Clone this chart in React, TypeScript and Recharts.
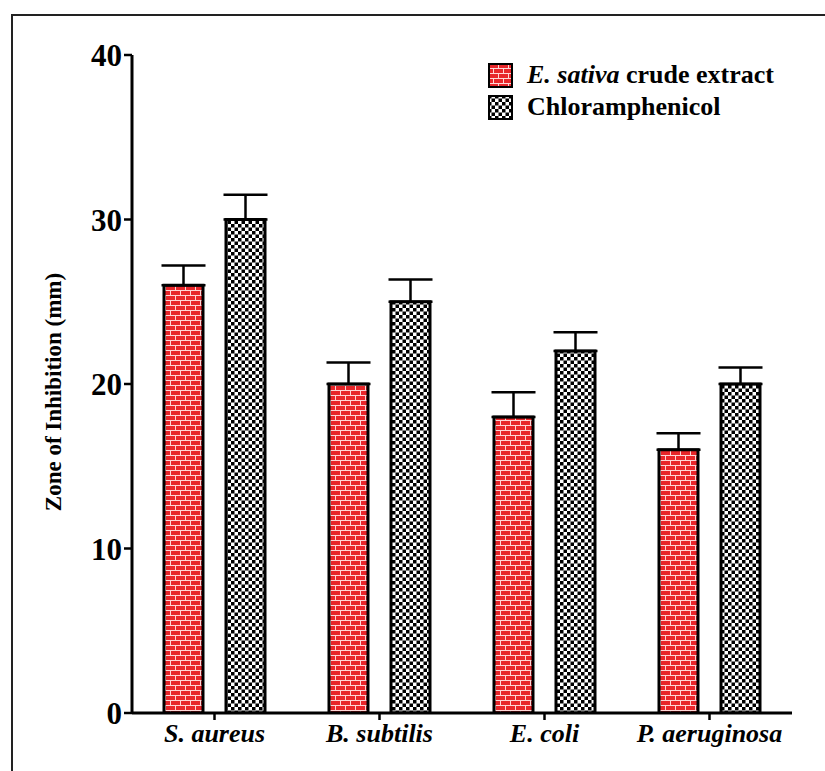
import React from 'react';
import { BarChart, Bar, XAxis, YAxis, ErrorBar, Legend } from 'recharts';

const categories = ['S. aureus', 'B. subtilis', 'E. coli', 'P. aeruginosa'];
const extractValues = [26, 20, 18, 16];
const extractErrors = [1.2, 1.3, 1.5, 1.0];
const chloramValues = [30, 25, 22, 20];
const chloramErrors = [1.5, 1.35, 1.15, 1.0];
const yTicks = [0, 10, 20, 30, 40];

const SERIF = '"Liberation Serif", "Times New Roman", serif';

// table for recharts, errors only go upward
const chartData = categories.map((name, i) => ({
    name,
    extract: extractValues[i],
    extractErr: [0, extractErrors[i]],
    chloram: chloramValues[i],
    chloramErr: [0, chloramErrors[i]],
}));

function Patterns() {
    return (
        <svg width={0} height={0} style={{ position: 'absolute' }}>
            <defs>
                <pattern id="brick" width={10} height={10} patternUnits="userSpaceOnUse">
                    <rect width={10} height={10} fill="#e8262a" />
                    <line x1={0} y1={0.5} x2={10} y2={0.5} stroke="#ffd6d6" strokeWidth={1} />
                    <line x1={0} y1={5.5} x2={10} y2={5.5} stroke="#ffd6d6" strokeWidth={1} />
                    <line x1={0.5} y1={0} x2={0.5} y2={5} stroke="#ffd6d6" strokeWidth={1} />
                    <line x1={5.5} y1={5} x2={5.5} y2={10} stroke="#ffd6d6" strokeWidth={1} />
                </pattern>
                <pattern id="checker" width={7} height={7} patternUnits="userSpaceOnUse">
                    <rect width={7} height={7} fill="#fff" />
                    <rect x={0} y={0} width={3.5} height={3.5} fill="#000" />
                    <rect x={3.5} y={3.5} width={3.5} height={3.5} fill="#000" />
                </pattern>
            </defs>
        </svg>
    );
}

function LegendBox() {
    const rows = [
        { fill: 'url(#brick)', label: <><i>E. sativa</i> crude extract</> },
        { fill: 'url(#checker)', label: <>Chloramphenicol</> },
    ];
    return (
        <div style={{ fontFamily: SERIF, fontWeight: 'bold', fontSize: 26, color: '#000' }}>
            {rows.map((r, i) => (
                <div key={i} style={{ display: 'flex', alignItems: 'center', height: 32 }}>
                    <svg width={25} height={25} style={{ marginRight: 14 }}>
                        <rect x={1} y={1} width={23} height={23} fill={r.fill} stroke="#000" strokeWidth={2} />
                    </svg>
                    <span style={{ whiteSpace: 'nowrap' }}>{r.label}</span>
                </div>
            ))}
        </div>
    );
}

function YTitle({ viewBox }: any) {
    const x = viewBox.x + 53;
    const y = viewBox.y + viewBox.height / 2 + 8;
    return (
        <text
            x={x}
            y={y}
            transform={`rotate(-90 ${x} ${y})`}
            textAnchor="middle"
            dominantBaseline="central"
            fontFamily={SERIF}
            fontWeight="bold"
            fontSize={23}
            fill="#000"
        >
            Zone of Inhibition (mm)
        </text>
    );
}

export default function App() {
    return (
        <div style={{ position: 'absolute', left: 0, top: 0, width: 825, height: 771, background: '#fff' }}>
            <Patterns />
            <div
                style={{
                    position: 'absolute',
                    left: 11,
                    top: 14,
                    right: 0,
                    bottom: 0,
                    borderLeft: '2px solid #222',
                    borderTop: '2px solid #222',
                }}
            />
            <BarChart
                width={825}
                height={771}
                data={chartData}
                margin={{ top: 55, right: 33, bottom: 0, left: 0 }}
                barSize={39}
                barGap={23}
                style={{ position: 'absolute', left: 0, top: 0 }}
            >
                <XAxis
                    dataKey="name"
                    height={58}
                    axisLine={{ stroke: '#000', strokeWidth: 3 }}
                    tickLine={{ stroke: '#000', strokeWidth: 2.5 }}
                    tickSize={7}
                    tickMargin={4}
                    tick={{ fill: '#000', fontSize: 26, fontWeight: 'bold', fontStyle: 'italic', fontFamily: SERIF }}
                    interval={0}
                />
                <YAxis
                    width={132}
                    domain={[0, 40]}
                    ticks={yTicks}
                    allowDataOverflow
                    axisLine={{ stroke: '#000', strokeWidth: 3 }}
                    tickLine={{ stroke: '#000', strokeWidth: 2.5 }}
                    tickSize={8}
                    tickMargin={2}
                    tick={{ fill: '#000', fontSize: 31, fontWeight: 'bold', fontFamily: SERIF }}
                    label={<YTitle />}
                />
                <Legend
                    align="center"
                    verticalAlign="middle"
                    content={() => <LegendBox />}
                    wrapperStyle={{ top: 59, left: 488, width: 'auto' }}
                />
                <Bar dataKey="extract" fill="url(#brick)" stroke="#000" strokeWidth={3} isAnimationActive={false}>
                    <ErrorBar dataKey="extractErr" width={22} stroke="#000" strokeWidth={2.5} direction="y" />
                </Bar>
                <Bar dataKey="chloram" fill="url(#checker)" stroke="#000" strokeWidth={3} isAnimationActive={false}>
                    <ErrorBar dataKey="chloramErr" width={22} stroke="#000" strokeWidth={2.5} direction="y" />
                </Bar>
            </BarChart>
        </div>
    );
}
